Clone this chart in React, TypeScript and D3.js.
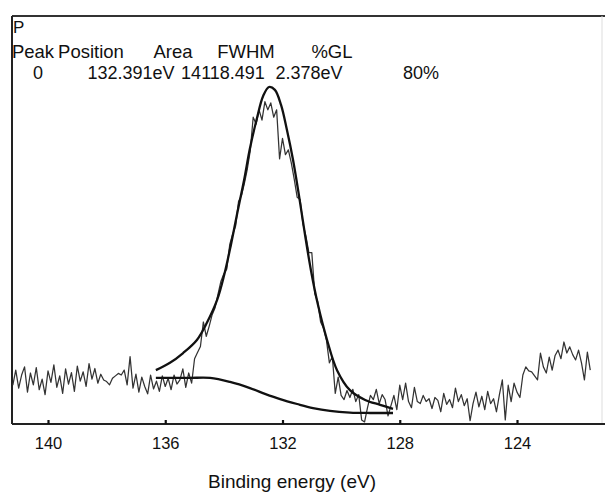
import React, { useEffect, useRef } from "react";
import * as d3 from "d3";

// Spectrum sampling grid
const E_START = 141.2;
const E_STEP = 0.1;

// Raw XPS P 2p intensity (arbitrary units)
const counts = [
  95, 132, 88, 120, 140, 78, 125, 96, 138, 84,
  110, 72, 130, 102, 145, 90, 118, 75, 135, 98,
  126, 80, 142, 105, 128, 92, 148, 110, 136, 100,
  122, 108, 104, 96, 112, 118, 124, 120, 132, 96,
  165, 88, 122, 78, 115, 92, 74, 120, 86, 105,
  80, 118, 92, 112, 84, 120, 98, 108, 135, 90,
  125, 100, 160, 175, 190, 250, 215, 240, 268, 285,
  318, 350, 368, 380, 440, 465, 485, 545, 560, 590,
  625, 670, 752, 735, 770, 745, 790, 770, 787, 752,
  770, 650, 700, 660, 672, 640, 600, 556, 550, 490,
  460, 420, 420, 320, 300, 250, 235, 205, 150, 165,
  75, 115, 70, 60, 82, 65, 85, 55, 72, 10,
  5, 40, 70, 60, 85, 50, 72, 60, 20, 45,
  70, 35, 95, 60, 100, 55, 40, 90, 55, 50,
  70, 55, 62, 38, 65, 58, 30, 75, 48, 60,
  40, 88, 55, 72, 45, 62, 8, 50, 78, 42,
  68, 35, 80, 50, 62, 30, 72, 108, 10, 95,
  55, 100, 78, 65, 120, 140, 130, 128, 118, 108,
  174, 140, 125, 164, 132, 168, 181, 160, 201, 174,
  189, 170, 157, 181, 150, 108, 176, 132,
];

// Fitted envelope (peak + background)
const envelopeE = [
  136.32, 135.84, 135.39, 134.92, 134.58, 134.23, 133.99, 133.76, 133.52, 133.31,
  133.11, 132.87, 132.66, 132.46, 132.26, 132.05, 131.85, 131.64, 131.44, 131.23,
  131.03, 130.79, 130.48, 130.14, 129.7, 129.18, 128.67, 128.23,
];
const envelopeV = [
  132, 150, 174, 206, 248, 304, 365, 439, 525, 598,
  676, 750, 804, 826, 819, 782, 721, 647, 561, 463,
  377, 292, 206, 132, 83, 59, 47, 37,
];

// Shirley background
const backgroundE = [136.32, 135.84, 135.16, 134.47, 133.79, 133.11, 132.6, 132.08, 131.5, 130.96, 130.38, 129.7, 129.01, 128.23];
const backgroundV = [113, 113, 113, 113, 103, 88, 74, 61, 49, 39, 32, 28, 27, 27];

const xTicks = [140, 136, 132, 128, 124];

const headerLabels = ["Peak", "Position", "Area", "FWHM", "%GL"];
const headerCenters = [33, 91, 173, 246, 332];
const rowValues = ["0", "132.391eV", "14118.491", "2.378eV", "80%"];
const rowCenters = [38, 131, 223, 309, 421];

const W = 605;
const H = 493;
const LEFT = 12;
const TOP = 16;
const BOTTOM = 424;
const RIGHT = 602;

export default function App() {
  const axisRef = useRef<SVGGElement | null>(null);

  const x = d3.scaleLinear().domain([140, 124]).range([48, 517]);
  const y = d3.scaleLinear().domain([0, 1000]).range([BOTTOM, TOP]);

  const data = counts.map((v, i) => ({ e: E_START - i * E_STEP, v }));
  const env = envelopeE.map((e, i) => ({ e, v: envelopeV[i] }));
  const bg = backgroundE.map((e, i) => ({ e, v: backgroundV[i] }));

  const rawLine = d3
    .line<{ e: number; v: number }>()
    .x((d) => x(d.e))
    .y((d) => y(d.v));
  const smoothLine = d3
    .line<{ e: number; v: number }>()
    .x((d) => x(d.e))
    .y((d) => y(d.v))
    .curve(d3.curveCatmullRom.alpha(0.5));

  useEffect(() => {
    if (!axisRef.current) return;
    const g = d3.select(axisRef.current);
    g.selectAll("*").remove();
    g.call(
      d3
        .axisBottom(x)
        .tickValues(xTicks)
        .tickSizeInner(-4)
        .tickSizeOuter(0)
        .tickPadding(13)
        .tickFormat((d) => String(d))
    );
    g.select(".domain").remove();
    g.selectAll(".tick line").attr("stroke", "#111").attr("stroke-width", 2.2);
    g.selectAll(".tick text")
      .attr("fill", "#111")
      .style("font-family", "'Liberation Sans', Arial, sans-serif")
      .style("font-size", "16.5px");
  }, []);

  return (
    <svg
      width={W}
      height={H}
      viewBox={`0 0 ${W} ${H}`}
      style={{ position: "absolute", left: 0, top: 0, background: "#fff" }}
    >
      <rect x={0} y={0} width={W} height={H} fill="#fff" />
      {/* frame */}
      <line x1={LEFT} x2={W} y1={TOP} y2={TOP} stroke="#333" strokeWidth={2} />
      <line x1={LEFT} x2={LEFT} y1={TOP} y2={BOTTOM} stroke="#222" strokeWidth={2} />
      <line x1={RIGHT} x2={RIGHT} y1={TOP} y2={BOTTOM} stroke="#ddd" strokeWidth={1} />
      <line x1={LEFT} x2={W} y1={BOTTOM} y2={BOTTOM} stroke="#222" strokeWidth={2} />

      {/* raw spectrum */}
      <path d={rawLine(data) || ""} fill="none" stroke="#333" strokeWidth={1.25} strokeLinejoin="round" />
      {/* background */}
      <path d={smoothLine(bg) || ""} fill="none" stroke="#111" strokeWidth={2.3} />
      {/* envelope */}
      <path d={smoothLine(env) || ""} fill="none" stroke="#111" strokeWidth={2.3} />

      <g ref={axisRef} transform={`translate(0,${BOTTOM})`} />

      {/* labels */}
      <g fontFamily="'Liberation Sans', Arial, sans-serif" fill="#111">
        <text x={13} y={33} fontSize={17}>
          P
        </text>
        {headerLabels.map((t, i) => (
          <text key={t} x={headerCenters[i]} y={58} fontSize={18.5} textAnchor="middle">
            {t}
          </text>
        ))}
        {rowValues.map((t, i) => (
          <text key={t} x={rowCenters[i]} y={79} fontSize={18} textAnchor="middle">
            {t}
          </text>
        ))}
        <text x={292} y={488} fontSize={19} textAnchor="middle">
          Binding energy (eV)
        </text>
      </g>
    </svg>
  );
}
